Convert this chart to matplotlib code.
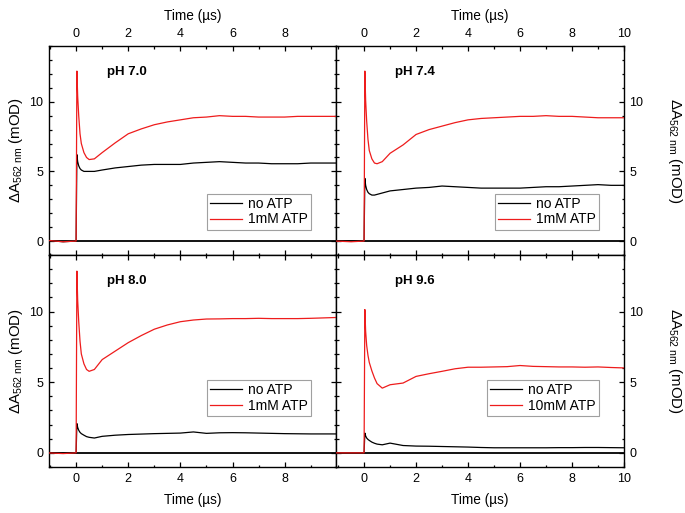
import matplotlib
matplotlib.use("Agg")
import matplotlib.pyplot as plt
from matplotlib.ticker import MultipleLocator

plt.rcParams['font.family'] = ['Liberation Sans', 'DejaVu Sans']
plt.rcParams['mathtext.fontset'] = 'custom'
plt.rcParams['mathtext.rm'] = 'Liberation Sans'
plt.rcParams['mathtext.it'] = 'Liberation Sans:italic'

# Time axis (µs) shared by all traces
time = [-1.1, -0.5, 0.0, 0.03, 0.06, 0.1, 0.15, 0.2, 0.3, 0.4, 0.5, 0.7, 1.0, 1.5,
        2.0, 2.5, 3.0, 3.5, 4.0, 4.5, 5.0, 5.5, 6.0, 6.5, 7.0, 7.5, 8.0, 8.5, 9.0, 9.5, 10.0]

ph70_atp = [0.05, -0.05, 0.0, 12.2, 10.4, 9.0, 7.7, 7.0, 6.35, 6.0, 5.85, 5.9, 6.35, 7.05,
            7.7, 8.05, 8.35, 8.55, 8.7, 8.85, 8.9, 9.0, 8.95, 8.95, 8.9, 8.9, 8.9, 8.95, 8.95, 8.95, 8.95]
ph70_no = [0.05, -0.05, 0.0, 6.2, 5.7, 5.4, 5.2, 5.1, 5.0, 5.0, 5.0, 5.0, 5.1, 5.25,
           5.35, 5.45, 5.5, 5.5, 5.5, 5.6, 5.65, 5.7, 5.65, 5.6, 5.6, 5.55, 5.55, 5.55, 5.6, 5.6, 5.6]

ph74_atp = [0.0, -0.05, 0.0, 12.2, 10.1, 8.6, 7.3, 6.5, 5.9, 5.6, 5.55, 5.7, 6.3, 6.9,
            7.65, 8.0, 8.25, 8.5, 8.7, 8.8, 8.85, 8.9, 8.95, 8.95, 9.0, 8.95, 8.95, 8.9, 8.85, 8.85, 8.85]
ph74_no = [0.0, 0.0, 0.0, 4.5, 4.0, 3.7, 3.5, 3.4, 3.3, 3.3, 3.35, 3.45, 3.6, 3.7,
           3.8, 3.85, 3.95, 3.9, 3.85, 3.8, 3.8, 3.8, 3.8, 3.85, 3.9, 3.9, 3.95, 4.0, 4.05, 4.0, 4.0]

ph80_atp = [0.0, -0.05, 0.0, 12.86, 10.8, 9.3, 7.9, 7.0, 6.3, 5.9, 5.77, 5.9, 6.6, 7.2,
            7.8, 8.3, 8.75, 9.05, 9.28, 9.4, 9.47, 9.48, 9.5, 9.5, 9.52, 9.5, 9.5, 9.5, 9.52, 9.55, 9.58]
ph80_no = [0.0, 0.0, 0.0, 2.07, 1.8, 1.6, 1.45, 1.36, 1.25, 1.15, 1.1, 1.05, 1.17, 1.25,
           1.3, 1.33, 1.36, 1.38, 1.4, 1.48, 1.38, 1.42, 1.43, 1.42, 1.4, 1.38, 1.36, 1.35, 1.34, 1.34, 1.34]

ph96_atp = [0.0, 0.0, 0.0, 10.14, 8.6, 7.6, 6.9, 6.4, 5.8, 5.3, 4.9, 4.58, 4.82, 4.94,
            5.41, 5.6, 5.77, 5.95, 6.06, 6.06, 6.08, 6.1, 6.18, 6.12, 6.1, 6.08, 6.08, 6.06, 6.08, 6.04, 6.01]
ph96_no = [0.0, 0.0, 0.0, 1.4, 1.2, 1.05, 0.95, 0.88, 0.76, 0.68, 0.62, 0.57, 0.69, 0.52,
           0.48, 0.47, 0.45, 0.43, 0.41, 0.38, 0.36, 0.36, 0.36, 0.36, 0.36, 0.37, 0.37, 0.38, 0.38, 0.37, 0.36]

panel_titles = ['pH 7.0', 'pH 7.4', 'pH 8.0', 'pH 9.6']
atp_labels = ['1mM ATP', '1mM ATP', '1mM ATP', '10mM ATP']
no_label = 'no ATP'
xlabel = 'Time (\u00b5s)'
ylabel = r'$\Delta\mathrm{A}_{\mathrm{562\ nm}}$ (mOD)'

fig = plt.figure(figsize=(6.85, 5.13), dpi=100)
L, M, R = 49/685, 336/685, 624/685
T, C, B = 1-46/513, 1-255/513, 1-467/513

positions = [(L, C, M-L, T-C), (M, C, R-M, T-C), (L, B, M-L, C-B), (M, B, R-M, C-B)]
series = [(ph70_no, ph70_atp), (ph74_no, ph74_atp), (ph80_no, ph80_atp), (ph96_no, ph96_atp)]
legend_y = [0.12, 0.12, 0.24, 0.24]

for i, (pos, (no, atp)) in enumerate(zip(positions, series)):
    ax = fig.add_axes(pos)
    top = i < 2
    right = i % 2 == 1
    ax.axhline(0, color='black', lw=1.3, zorder=1)
    ax.plot(time, no, color='black', lw=0.9, label=no_label, zorder=2)
    ax.plot(time, atp, color='#ee1c1c', lw=0.9, label=atp_labels[i], zorder=3)
    ax.set_xlim(-1.08, 10.0) if right else ax.set_xlim(-1.04, 9.97)
    ax.set_ylim(-1, 14)
    ax.xaxis.set_major_locator(MultipleLocator(2))
    ax.xaxis.set_minor_locator(MultipleLocator(1))
    ax.yaxis.set_major_locator(MultipleLocator(5))
    ax.yaxis.set_minor_locator(MultipleLocator(1))
    ax.tick_params(which='both', direction='in', top=True, bottom=True, left=True, right=True,
                   labeltop=top, labelbottom=not top, labelleft=not right, labelright=right,
                   labelsize=9, width=0.9)
    ax.tick_params(which='major', length=3.5, pad=4)
    ax.tick_params(which='minor', length=1.8)
    for s in ax.spines.values():
        s.set_linewidth(1.0)
    if top:
        ax.xaxis.set_label_position('top')
    ax.set_xlabel(xlabel, fontsize=9.8, labelpad=6)
    if right:
        ax.yaxis.set_label_position('right')
        ax.set_ylabel(ylabel, fontsize=10.8, rotation=270, va='bottom', labelpad=16)
    else:
        ax.set_ylabel(ylabel, fontsize=10.8, labelpad=3)
    ax.text(1.18, 12.15, panel_titles[i], fontsize=9.5, fontweight='bold', ha='left', va='center')
    leg = ax.legend(loc='lower right', bbox_to_anchor=(0.913, legend_y[i]), borderaxespad=0,
                    fontsize=10, frameon=True, fancybox=False, edgecolor='#888888',
                    handlelength=2.3, handletextpad=0.4, labelspacing=0.1, borderpad=0.25)
    leg.get_frame().set_linewidth(0.8)

fig.savefig('out.png', dpi=100)
